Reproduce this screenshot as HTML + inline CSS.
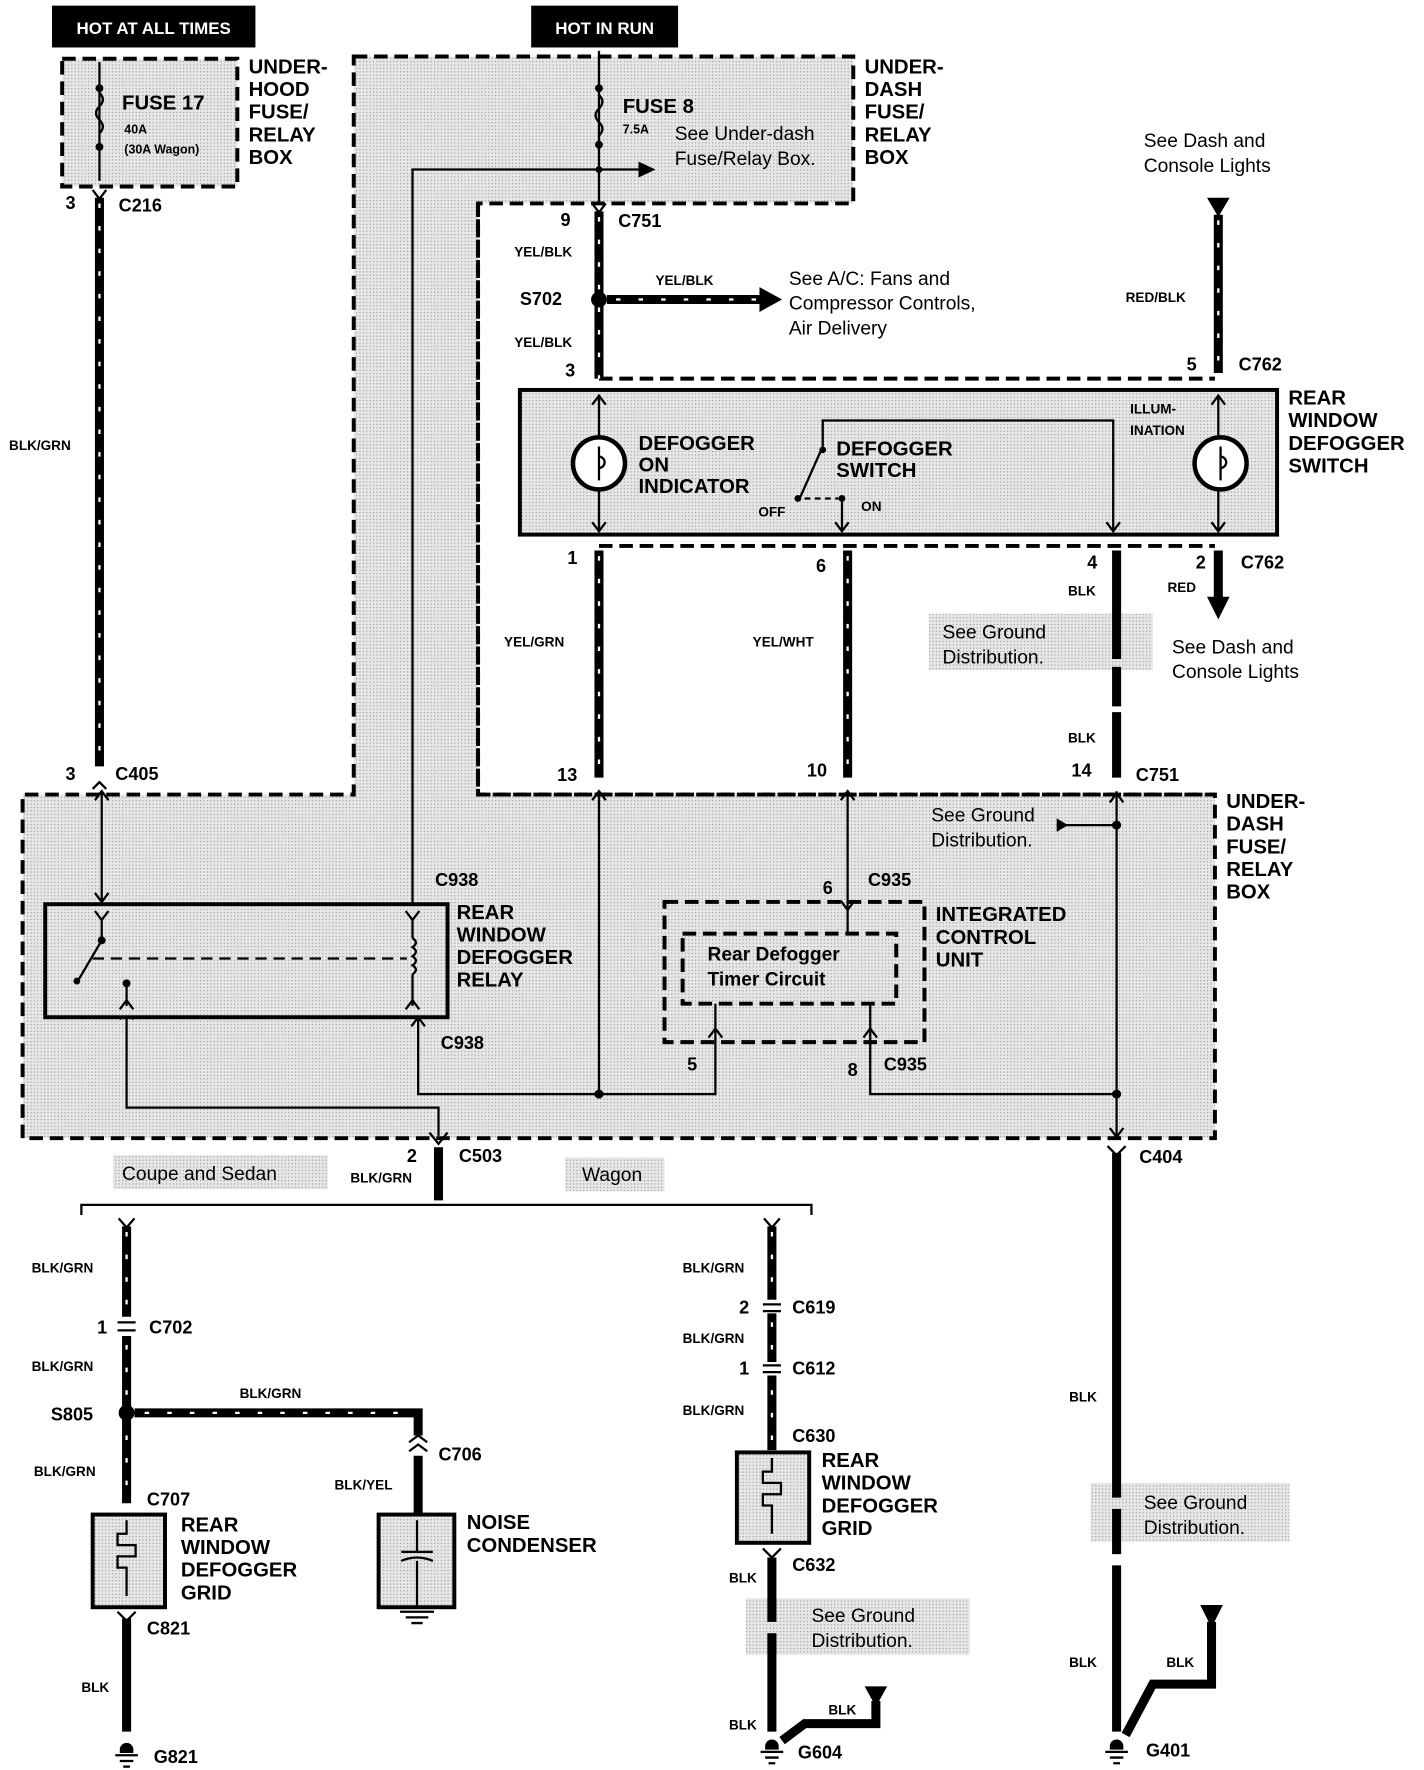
<!DOCTYPE html>
<html><head><meta charset="utf-8"><style>
html,body{margin:0;padding:0;background:#fff}
svg{display:block}
text{font-family:"Liberation Sans",sans-serif;font-weight:bold;fill:#000}
.b{font-size:18px}
.s{font-size:12px}
.n{font-size:17px;font-weight:normal}
.w{stroke:#000;stroke-width:8;fill:none}
.t{stroke:#fff;stroke-width:2;stroke-dasharray:4 16;fill:none}
.l{stroke:#000;stroke-width:2;fill:none}
.d{stroke:#000;stroke-width:3.5;stroke-dasharray:12 6}
</style></head><body>
<svg width="1424" height="1770" viewBox="0 0 1260 1566" preserveAspectRatio="none" xmlns="http://www.w3.org/2000/svg">
<defs>
<pattern id="st" width="3" height="3" patternUnits="userSpaceOnUse"><rect width="3" height="3" fill="#e6e6e6"/><rect width="1" height="1" fill="#999"/></pattern>
</defs>
<rect x="46" y="5" width="180" height="37" fill="#000"/>
<text x="136" y="30" text-anchor="middle" class="s" style="fill:#fff;font-size:15px">HOT AT ALL TIMES</text>
<rect x="470" y="5" width="130" height="37" fill="#000"/>
<text x="535" y="30" text-anchor="middle" class="s" style="fill:#fff;font-size:15px">HOT IN RUN</text>

<rect x="55" y="52" width="155" height="113" style="fill:url(#st)" class="d"/>
<path d="M313,50 H755 V180 H423 V703 H1075 V1007 H20 V703 H313 Z" style="fill:url(#st)" class="d"/>
<rect x="425" y="182" width="648" height="519" fill="#fff"/>
<path d="M423,180 V703 H1075" style="fill:none" class="d"/>
<rect x="460" y="345" width="670" height="128" style="fill:url(#st)" stroke="#000" stroke-width="3.5"/>
<line x1="530" y1="335" x2="1075" y2="335" class="d"/>
<line x1="530" y1="483" x2="1075" y2="483" class="d"/>
<rect x="822" y="543" width="198" height="50" style="fill:url(#st)"/>
<rect x="100" y="1022" width="190" height="30" style="fill:url(#st)"/>
<rect x="500" y="1024" width="88" height="30" style="fill:url(#st)"/>
<rect x="660" y="1414" width="198" height="50" style="fill:url(#st)"/>
<rect x="965" y="1312" width="176" height="52" style="fill:url(#st)"/>

<line x1="88" y1="55" x2="88" y2="160" class="l"/>
<circle cx="88" cy="78" r="3.5"/><circle cx="88" cy="130" r="3.5"/>
<path d="M88,82 q6,6 0,12 q-6,6 0,12 q6,6 0,12" fill="none" stroke="#000" stroke-width="2"/>
<text x="108" y="97" class="b">FUSE 17</text>
<text x="110" y="118" class="s" style="font-size:11px">40A</text>
<text x="110" y="136" class="s" style="font-size:11px">(30A Wagon)</text>
<text class="b"><tspan x="220" y="65">UNDER-</tspan><tspan x="220" y="85">HOOD</tspan><tspan x="220" y="105">FUSE/</tspan><tspan x="220" y="125">RELAY</tspan><tspan x="220" y="145">BOX</tspan></text>
<text x="58" y="185" class="b" style="font-size:16px">3</text><text x="105" y="187" class="b" style="font-size:16px">C216</text>
<path d="M82,168 l6,8 l6,-8" class="l"/>
<line x1="88" y1="175" x2="88" y2="678" class="w"/><line x1="88" y1="180" x2="88" y2="678" class="t"/>
<text x="8" y="398" class="s">BLK/GRN</text>
<text x="58" y="690" class="b" style="font-size:16px">3</text><text x="102" y="690" class="b" style="font-size:16px">C405</text>
<path d="M82,698 l6,-6 l6,6" class="l"/>

<line x1="530" y1="45" x2="530" y2="180" class="l"/>
<circle cx="530" cy="78" r="3.5"/><circle cx="530" cy="128" r="3.5"/>
<path d="M530,84 q6,6 0,12 q-6,6 0,12 q6,6 0,12" fill="none" stroke="#000" stroke-width="2"/>
<text x="551" y="100" class="b">FUSE 8</text>
<text x="551" y="118" class="s" style="font-size:11px">7.5A</text>
<text x="597" y="124" class="n">See Under-dash</text>
<text x="597" y="146" class="n">Fuse/Relay Box.</text>
<text class="b"><tspan x="765" y="65">UNDER-</tspan><tspan x="765" y="85">DASH</tspan><tspan x="765" y="105">FUSE/</tspan><tspan x="765" y="125">RELAY</tspan><tspan x="765" y="145">BOX</tspan></text>
<polyline points="365,800 365,150 565,150" class="l"/>
<path d="M565,143 L580,150 L565,157 Z"/>
<circle cx="530" cy="150" r="3"/>
<text x="496" y="200" class="b" style="font-size:16px">9</text><text x="547" y="201" class="b" style="font-size:16px">C751</text>
<path d="M524,180 l6,8 l6,-8" class="l"/>
<line x1="530" y1="187" x2="530" y2="335" class="w"/><line x1="530" y1="192" x2="530" y2="335" class="t"/>
<text x="455" y="227" class="s">YEL/BLK</text>
<text x="455" y="307" class="s">YEL/BLK</text>
<circle cx="530" cy="265" r="7"/>
<text x="460" y="270" class="b" style="font-size:16px">S702</text>
<line x1="537" y1="265" x2="675" y2="265" class="w"/><line x1="545" y1="265" x2="675" y2="265" class="t"/>
<path d="M672,254 L692,265 L672,276 Z"/>
<text x="580" y="252" class="s">YEL/BLK</text>
<text class="n"><tspan x="698" y="252">See A/C: Fans and</tspan><tspan x="698" y="274">Compressor Controls,</tspan><tspan x="698" y="296">Air Delivery</tspan></text>
<text x="500" y="333" class="b" style="font-size:16px">3</text>

<text class="n"><tspan x="1012" y="130">See Dash and</tspan><tspan x="1012" y="152">Console Lights</tspan></text>
<path d="M1068,175 L1088,175 L1078,192 Z"/>
<line x1="1078" y1="190" x2="1078" y2="330" class="w"/><line x1="1078" y1="195" x2="1078" y2="330" class="t"/>
<text x="996" y="267" class="s">RED/BLK</text>
<text x="1050" y="328" class="b" style="font-size:16px">5</text><text x="1096" y="328" class="b" style="font-size:16px">C762</text>
<text class="b"><tspan x="1140" y="358">REAR</tspan><tspan x="1140" y="378">WINDOW</tspan><tspan x="1140" y="398">DEFOGGER</tspan><tspan x="1140" y="418">SWITCH</tspan></text>

<line x1="530" y1="350" x2="530" y2="470" class="l"/>
<path d="M524,358 l6,-8 l6,8 M524,462 l6,8 l6,-8" class="l"/>
<circle cx="530" cy="410" r="23" fill="#fff" stroke="#000" stroke-width="4"/>
<path d="M530,395 v30 M530,404 a5,5 0 1 1 0,10" class="l"/>
<text class="b"><tspan x="565" y="398">DEFOGGER</tspan><tspan x="565" y="417">ON</tspan><tspan x="565" y="436">INDICATOR</tspan></text>
<polyline points="728,395 728,372 985,372 985,470" class="l"/>
<path d="M979,462 l6,8 l6,-8" class="l"/>
<line x1="728" y1="395" x2="708" y2="440" stroke="#000" stroke-width="2"/>
<circle cx="728" cy="398" r="3"/><circle cx="706" cy="441" r="3"/><circle cx="745" cy="441" r="3"/>
<line x1="712" y1="441" x2="742" y2="441" stroke="#000" stroke-width="2" stroke-dasharray="5 4"/>
<line x1="745" y1="441" x2="745" y2="470" class="l"/>
<path d="M739,462 l6,8 l6,-8" class="l"/>
<text class="b"><tspan x="740" y="403">DEFOGGER</tspan><tspan x="740" y="422">SWITCH</tspan></text>
<text x="671" y="457" class="s">OFF</text><text x="762" y="452" class="s">ON</text>
<text x="1000" y="366" class="s">ILLUM-</text><text x="1000" y="385" class="s">INATION</text>
<line x1="1078" y1="350" x2="1078" y2="470" class="l"/>
<path d="M1072,358 l6,-8 l6,8 M1072,462 l6,8 l6,-8" class="l"/>
<circle cx="1080" cy="410" r="23" fill="#fff" stroke="#000" stroke-width="4"/>
<path d="M1080,395 v30 M1080,404 a5,5 0 1 1 0,10" class="l"/>

<line x1="530" y1="487" x2="530" y2="688" class="w"/><line x1="530" y1="492" x2="530" y2="688" class="t"/>
<line x1="750" y1="487" x2="750" y2="688" class="w"/><line x1="750" y1="492" x2="750" y2="688" class="t"/>
<line x1="988" y1="487" x2="988" y2="583" class="w"/><line x1="988" y1="590" x2="988" y2="625" class="w"/><line x1="988" y1="630" x2="988" y2="688" class="w"/>
<text x="502" y="499" class="b" style="font-size:16px">1</text>
<text x="722" y="506" class="b" style="font-size:16px">6</text>
<text x="962" y="503" class="b" style="font-size:16px">4</text>
<text x="945" y="527" class="s">BLK</text>
<text x="446" y="572" class="s">YEL/GRN</text>
<text x="666" y="572" class="s">YEL/WHT</text>
<text class="n"><tspan x="834" y="565">See Ground</tspan><tspan x="834" y="587">Distribution.</tspan></text>
<text x="945" y="657" class="s">BLK</text>
<text x="1058" y="503" class="b" style="font-size:16px">2</text><text x="1098" y="503" class="b" style="font-size:16px">C762</text>
<text x="1033" y="524" class="s">RED</text>
<line x1="1078" y1="487" x2="1078" y2="530" class="w"/>
<path d="M1068,528 L1088,528 L1078,548 Z"/>
<text class="n"><tspan x="1037" y="578">See Dash and</tspan><tspan x="1037" y="600">Console Lights</tspan></text>
<text x="493" y="691" class="b" style="font-size:16px">13</text>
<text x="714" y="687" class="b" style="font-size:16px">10</text>
<text x="948" y="687" class="b" style="font-size:16px">14</text>
<text x="1005" y="691" class="b" style="font-size:16px">C751</text>

<text class="b"><tspan x="1085" y="715">UNDER-</tspan><tspan x="1085" y="735">DASH</tspan><tspan x="1085" y="755">FUSE/</tspan><tspan x="1085" y="775">RELAY</tspan><tspan x="1085" y="795">BOX</tspan></text>
<text class="n"><tspan x="824" y="727">See Ground</tspan><tspan x="824" y="749">Distribution.</tspan></text>
<line x1="935" y1="730" x2="988" y2="730" class="l"/><path d="M935,724 L945,730 L935,736 Z"/>
<circle cx="988" cy="730" r="4"/>
<line x1="988" y1="700" x2="988" y2="1005" class="l"/>
<path d="M982,710 l6,-8 l6,8 M982,998 l6,8 l6,-8" class="l"/>
<circle cx="988" cy="968" r="4"/>
<line x1="90" y1="700" x2="90" y2="798" class="l"/>
<path d="M84,708 l6,-8 l6,8 M84,790 l6,8 l6,-8" class="l"/>
<line x1="530" y1="700" x2="530" y2="968" class="l"/>
<path d="M524,708 l6,-8 l6,8" class="l"/>
<circle cx="530" cy="968" r="4"/>
<line x1="750" y1="700" x2="750" y2="805" class="l"/>
<path d="M744,708 l6,-8 l6,8 M744,797 l6,8 l6,-8" class="l"/>
<polyline points="370,902 370,968 633,968 633,912" class="l"/>
<polyline points="770,912 770,968 988,968" class="l"/>
<path d="M627,918 l6,-8 l6,8 M764,918 l6,-8 l6,8 M364,908 l6,-8 l6,8" class="l"/>
<polyline points="112,895 112,980 388,980 388,1005" class="l"/>
<path d="M106,902 l6,-8 l6,8" class="l"/>

<rect x="40" y="800" width="356" height="100" style="fill:url(#st)" stroke="#000" stroke-width="3.5"/>
<path d="M84,806 l6,8 l6,-8 M359,806 l6,8 l6,-8 M359,893 l6,-8 l6,8 M106,893 l6,-8 l6,8" class="l"/>
<line x1="90" y1="812" x2="90" y2="830" class="l"/><circle cx="90" cy="832" r="3.5"/>
<line x1="90" y1="832" x2="70" y2="866" stroke="#000" stroke-width="2"/><circle cx="68" cy="868" r="3"/>
<circle cx="112" cy="870" r="3.5"/><line x1="112" y1="870" x2="112" y2="890" class="l"/>
<line x1="82" y1="848" x2="360" y2="848" stroke="#000" stroke-width="2" stroke-dasharray="10 6"/>
<line x1="365" y1="812" x2="365" y2="830" class="l"/>
<path d="M365,830 q6,4 0,8 q6,4 0,8 q6,4 0,8 q6,4 0,8" fill="none" stroke="#000" stroke-width="2"/>
<line x1="365" y1="862" x2="365" y2="890" class="l"/>
<text class="b"><tspan x="404" y="813">REAR</tspan><tspan x="404" y="833">WINDOW</tspan><tspan x="404" y="853">DEFOGGER</tspan><tspan x="404" y="873">RELAY</tspan></text>
<text x="385" y="784" class="b" style="font-size:16px">C938</text>
<text x="390" y="928" class="b" style="font-size:16px">C938</text>

<rect x="588" y="798" width="230" height="124" style="fill:none" class="d"/>
<rect x="604" y="826" width="189" height="62" style="fill:none" class="d"/>
<line x1="750" y1="805" x2="750" y2="826" class="l"/>
<line x1="633" y1="888" x2="633" y2="910" class="l"/><line x1="770" y1="888" x2="770" y2="910" class="l"/>
<text class="b" style="font-size:17px"><tspan x="626" y="850">Rear Defogger</tspan><tspan x="626" y="872">Timer Circuit</tspan></text>
<text x="728" y="791" class="b" style="font-size:16px">6</text><text x="768" y="784" class="b" style="font-size:16px">C935</text>
<text x="608" y="947" class="b" style="font-size:16px">5</text><text x="750" y="952" class="b" style="font-size:16px">8</text><text x="782" y="947" class="b" style="font-size:16px">C935</text>
<text class="b"><tspan x="828" y="815">INTEGRATED</tspan><tspan x="828" y="835">CONTROL</tspan><tspan x="828" y="855">UNIT</tspan></text>

<path d="M380,1002 l8,10 l8,-10" class="l"/>
<line x1="388" y1="1015" x2="388" y2="1062" class="w"/>
<text x="360" y="1028" class="b" style="font-size:16px">2</text><text x="406" y="1028" class="b" style="font-size:16px">C503</text>
<text x="310" y="1046" class="s">BLK/GRN</text>
<text x="108" y="1044" class="n">Coupe and Sedan</text>
<text x="515" y="1045" class="n">Wagon</text>
<path d="M72,1075 V1066 H718 V1075" class="l"/>

<path d="M105,1078 l7,8 l7,-8" class="l"/>
<line x1="112" y1="1085" x2="112" y2="1165" class="w"/><line x1="112" y1="1182" x2="112" y2="1330" class="w"/><line x1="112" y1="1090" x2="112" y2="1330" class="t"/>
<path d="M104,1170 h16 M104,1177 h16" class="l"/>
<text x="28" y="1126" class="s">BLK/GRN</text>
<text x="86" y="1180" class="b" style="font-size:16px">1</text><text x="132" y="1180" class="b" style="font-size:16px">C702</text>
<text x="28" y="1213" class="s">BLK/GRN</text>
<circle cx="112" cy="1250" r="7"/>
<text x="45" y="1257" class="b" style="font-size:16px">S805</text>
<polyline points="119,1250 370,1250 370,1270" class="w"/><line x1="128" y1="1250" x2="365" y2="1250" class="t"/>
<text x="212" y="1237" class="s">BLK/GRN</text>
<text x="30" y="1306" class="s">BLK/GRN</text>
<text x="130" y="1332" class="b" style="font-size:16px">C707</text>
<rect x="82" y="1340" width="64" height="82" style="fill:url(#st)" stroke="#000" stroke-width="3.5"/>
<path d="M112,1345 v12 h-8 v10 h16 v10 h-16 v10 h8 v25" fill="none" stroke="#000" stroke-width="2"/>
<text class="b"><tspan x="160" y="1355">REAR</tspan><tspan x="160" y="1375">WINDOW</tspan><tspan x="160" y="1395">DEFOGGER</tspan><tspan x="160" y="1415">GRID</tspan></text>
<line x1="112" y1="1432" x2="112" y2="1532" class="w"/>
<path d="M104,1426 l8,8 l8,-8" class="l"/>
<text x="130" y="1446" class="b" style="font-size:16px">C821</text>
<text x="72" y="1497" class="s">BLK</text>

<path d="M362,1276 l8,-6 l8,6 M362,1284 l8,-6 l8,6" class="l"/>
<line x1="370" y1="1288" x2="370" y2="1340" class="w"/>
<text x="388" y="1292" class="b" style="font-size:16px">C706</text>
<text x="296" y="1318" class="s">BLK/YEL</text>
<rect x="335" y="1340" width="67" height="82" style="fill:url(#st)" stroke="#000" stroke-width="3.5"/>
<path d="M369,1345 v28 M355,1373 h28 M355,1381 q14,-6 28,0 M369,1381 v40" fill="none" stroke="#000" stroke-width="2"/>
<path d="M354,1426 h30 M359,1431 h20 M364,1436 h10" class="l"/>
<text class="b"><tspan x="413" y="1353">NOISE</tspan><tspan x="413" y="1373">CONDENSER</tspan></text>

<path d="M676,1078 l7,8 l7,-8" class="l"/>
<line x1="683" y1="1085" x2="683" y2="1150" class="w"/><line x1="683" y1="1162" x2="683" y2="1205" class="w"/><line x1="683" y1="1217" x2="683" y2="1283" class="w"/>
<line x1="683" y1="1090" x2="683" y2="1283" class="t"/>
<path d="M675,1154 h16 M675,1160 h16 M675,1208 h16 M675,1214 h16" class="l"/>
<text x="604" y="1126" class="s">BLK/GRN</text>
<text x="654" y="1162" class="b" style="font-size:16px">2</text><text x="701" y="1162" class="b" style="font-size:16px">C619</text>
<text x="604" y="1188" class="s">BLK/GRN</text>
<text x="654" y="1216" class="b" style="font-size:16px">1</text><text x="701" y="1216" class="b" style="font-size:16px">C612</text>
<text x="604" y="1252" class="s">BLK/GRN</text>
<text x="701" y="1276" class="b" style="font-size:16px">C630</text>
<rect x="652" y="1285" width="64" height="80" style="fill:url(#st)" stroke="#000" stroke-width="3.5"/>
<path d="M683,1290 v12 h-8 v10 h16 v10 h-16 v10 h8 v25" fill="none" stroke="#000" stroke-width="2"/>
<text class="b"><tspan x="727" y="1298">REAR</tspan><tspan x="727" y="1318">WINDOW</tspan><tspan x="727" y="1338">DEFOGGER</tspan><tspan x="727" y="1358">GRID</tspan></text>
<path d="M675,1370 l8,8 l8,-8" class="l"/>
<line x1="683" y1="1378" x2="683" y2="1435" class="w"/><line x1="683" y1="1445" x2="683" y2="1532" class="w"/>
<text x="701" y="1390" class="b" style="font-size:16px">C632</text>
<text x="645" y="1400" class="s">BLK</text>
<text class="n"><tspan x="718" y="1435">See Ground</tspan><tspan x="718" y="1457">Distribution.</tspan></text>
<text x="645" y="1530" class="s">BLK</text>
<path d="M765,1492 L785,1492 L775,1510 Z"/>
<polyline points="775,1505 775,1525 712,1525 692,1540" class="w"/>
<text x="733" y="1517" class="s">BLK</text>

<path d="M980,1014 l8,8 l8,-8" class="l"/>
<line x1="988" y1="1020" x2="988" y2="1325" class="w"/><line x1="988" y1="1335" x2="988" y2="1375" class="w"/><line x1="988" y1="1385" x2="988" y2="1532" class="w"/>
<text x="1008" y="1029" class="b" style="font-size:16px">C404</text>
<text x="946" y="1240" class="s">BLK</text>
<text class="n"><tspan x="1012" y="1335">See Ground</tspan><tspan x="1012" y="1357">Distribution.</tspan></text>
<text x="946" y="1475" class="s">BLK</text>
<path d="M1062,1420 L1082,1420 L1072,1440 Z"/>
<polyline points="1072,1435 1072,1490 1020,1490 996,1535" class="w"/>
<text x="1032" y="1475" class="s">BLK</text>

<g>
<path d="M106,1548 a6,6 0 0 1 12,0 v3 h-12 z"/><path d="M102,1553 h20 M106,1558 h12 M109,1563 h6" class="l"/>
<path d="M677,1545 a6,6 0 0 1 12,0 v3 h-12 z"/><path d="M673,1550 h20 M677,1555 h12 M680,1560 h6" class="l"/>
<path d="M982,1545 a6,6 0 0 1 12,0 v3 h-12 z"/><path d="M978,1550 h20 M982,1555 h12 M985,1560 h6" class="l"/>
</g>
<text x="136" y="1560" class="b" style="font-size:16px">G821</text>
<text x="706" y="1556" class="b" style="font-size:16px">G604</text>
<text x="1014" y="1554" class="b" style="font-size:16px">G401</text>
</svg>
</body></html>
